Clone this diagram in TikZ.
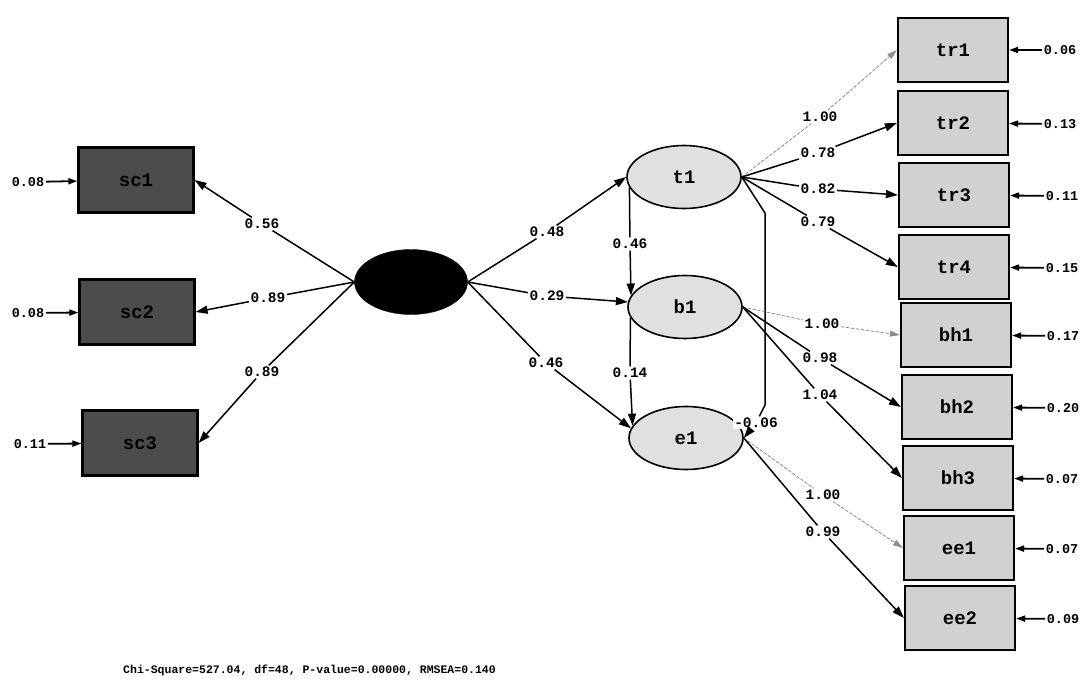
\documentclass[tikz,border=0pt]{standalone}
\usepackage{fontspec}
\setmonofont{Liberation Mono}
\usetikzlibrary{arrows.meta,shapes.geometric}
\begin{document}
\begin{tikzpicture}[x=1pt,y=-1pt,
  num/.style={font=\ttfamily\bfseries\fontsize{14.5}{14.5}\selectfont, fill=white, inner sep=1.5pt},
  errlab/.style={font=\ttfamily\bfseries\fontsize{13.5}{13.5}\selectfont, inner sep=1.5pt},
  obsR/.style={draw=black, line width=2.2pt, fill=black!18, minimum width=110pt, minimum height=64pt, inner sep=0pt, font=\ttfamily\bfseries\fontsize{19}{19}\selectfont},
  obsL/.style={draw=black, line width=2.2pt, fill=black!70, text=black, minimum width=115pt, minimum height=65pt, inner sep=0pt, font=\ttfamily\bfseries\fontsize{19}{19}\selectfont},
  latv/.style={ellipse, draw=black, line width=1.6pt, fill=black!12, minimum width=114pt, minimum height=63pt, inner sep=0pt, font=\ttfamily\bfseries\fontsize{19}{19}\selectfont},
  arr/.style={-{Triangle[length=12pt,width=8pt]}, line width=1.5pt},
  darr/.style={-{Triangle[length=10pt,width=6pt]}, draw=black!45, fill=black!45, line width=0.8pt, dash pattern=on 3pt off 2pt},
  earr/.style={-{Triangle[length=9pt,width=6pt]}, line width=1.8pt}
]
\useasboundingbox (0,0) rectangle (1085,680);

% central latent
\node[ellipse, draw=black, fill=black, minimum width=113pt, minimum height=65pt] (ce) at (411,282) {};

% left observed
\node[obsL] (sc1) at (136,180) {sc1};
\node[obsL] (sc2) at (137,312) {sc2};
\node[obsL] (sc3) at (140,443) {sc3};

\node[errlab] (esc1) at (28,182) {0.08};
\node[errlab] (esc2) at (28,313) {0.08};
\node[errlab] (esc3) at (30,444) {0.11};
\draw[earr] (esc1) -- (sc1);
\draw[earr] (esc2) -- (sc2);
\draw[earr] (esc3) -- (sc3);

% first-order latents
\node[latv] (t1) at (684,177) {t1};
\node[latv] (b1) at (685,307) {b1};
\node[latv] (e1) at (686,438) {e1};

% right observed
\node[obsR] (tr1) at (953,50) {tr1};
\node[obsR] (tr2) at (953,123) {tr2};
\node[obsR] (tr3) at (954,195) {tr3};
\node[obsR] (tr4) at (954,267) {tr4};
\node[obsR] (bh1) at (956,335) {bh1};
\node[obsR] (bh2) at (957,407) {bh2};
\node[obsR] (bh3) at (958,478) {bh3};
\node[obsR] (ee1) at (959,548) {ee1};
\node[obsR] (ee2) at (960,618) {ee2};

% error labels right
\node[errlab] (etr1) at (1060,50) {0.06};
\node[errlab] (etr2) at (1060,124) {0.13};
\node[errlab] (etr3) at (1062,196) {0.11};
\node[errlab] (etr4) at (1062,268) {0.15};
\node[errlab] (ebh1) at (1063,336) {0.17};
\node[errlab] (ebh2) at (1063,408) {0.20};
\node[errlab] (ebh3) at (1062,479) {0.07};
\node[errlab] (eee1) at (1062,549) {0.07};
\node[errlab] (eee2) at (1063,619) {0.09};
\foreach \e/\o in {etr1/tr1,etr2/tr2,etr3/tr3,etr4/tr4,ebh1/bh1,ebh2/bh2,ebh3/bh3,eee1/ee1,eee2/ee2}
  \draw[earr] (\e) -- (\o);

% second-order loadings (left)
\node[num] (l56) at (262,224) {0.56};
\node[num] (l89a) at (268,298) {0.89};
\node[num] (l89b) at (262,372) {0.89};
\draw[arr] (ce.west) -- (l56) -- (sc1.east);
\draw[arr] (ce.west) -- (l89a) -- (sc2.east);
\draw[arr] (ce.west) -- (l89b) -- (sc3.east);

% second-order paths (right)
\node[num] (l48) at (547,232) {0.48};
\node[num] (l29) at (547,296) {0.29};
\node[num] (l46c) at (546,363) {0.46};
\draw[arr] (ce.east) -- (l48) -- (t1.west);
\draw[arr] (ce.east) -- (l29) -- (b1.175);
\draw[arr] (ce.east) -- (l46c) -- (e1.170);

% paths between first-order latents
\node[num] (l46) at (630,244) {0.46};
\node[num] (l14) at (630,373) {0.14};
\draw[arr] (t1.191) -- (l46) -- (b1.168);
\draw[arr] (b1.191) -- (l14) -- (e1.167);
\coordinate (cA) at (765,213);
\coordinate (cB) at (765,405);
\node[num] (l06) at (756,423) {-0.06};
\draw[arr] (t1.east) -- (cA) -- (cB) -- (l06) -- (e1.east);

% loadings t1
\node[num] (la1) at (820,117) {1.00};
\node[num] (la2) at (818,153) {0.78};
\node[num] (la3) at (818,189) {0.82};
\node[num] (la4) at (818,222) {0.79};
\draw[darr] (t1.east) -- (la1) -- (tr1.west);
\draw[arr] (t1.east) -- (la2) -- (tr2.west);
\draw[arr] (t1.east) -- (la3) -- (tr3.west);
\draw[arr] (t1.east) -- (la4) -- (tr4.west);

% loadings b1
\node[num] (lb1) at (822,324) {1.00};
\node[num] (lb2) at (820,358) {0.98};
\node[num] (lb3) at (820,395) {1.04};
\draw[darr] (b1.east) -- (lb1) -- (bh1.west);
\draw[arr] (b1.east) -- (lb2) -- (bh2.west);
\draw[arr] (b1.east) -- (lb3) -- (bh3.west);

% loadings e1
\node[num] (lc1) at (823,495) {1.00};
\node[num] (lc2) at (823,532) {0.99};
\draw[darr] (e1.east) -- (lc1) -- (ee1.west);
\draw[arr] (e1.east) -- (lc2) -- (ee2.west);

% fit statistics
\node[font=\ttfamily\bfseries\fontsize{11.5}{11.5}\selectfont, anchor=west, inner sep=0pt] (fit) at (123,670) {Chi-Square=527.04, df=48, P-value=0.00000, RMSEA=0.140};
\end{tikzpicture}
\end{document}
